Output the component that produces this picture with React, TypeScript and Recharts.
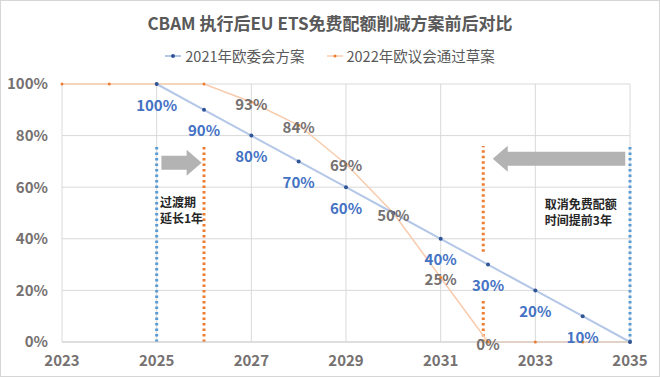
import { LineChart, Line, XAxis, YAxis, CartesianGrid, ReferenceLine, ReferenceDot, LabelList } from 'recharts';

const years = [2023, 2024, 2025, 2026, 2027, 2028, 2029, 2030, 2031, 2032, 2033, 2034, 2035];
const plan2021 = [null, null, 100, 90, 80, 70, 60, 50, 40, 30, 20, 10, 0];
const draft2022 = [100, 100, 100, 100, 93, 84, 69, 50, 25, 0, 0, 0, 0];
const xTicks = [2023, 2025, 2027, 2029, 2031, 2033, 2035];
const yTicks = [0, 20, 40, 60, 80, 100];
// which points get a data label
const plan2021Labeled = [2025, 2026, 2027, 2028, 2029, 2031, 2032, 2033, 2034];
const draft2022Labeled = [2027, 2028, 2029, 2030, 2031, 2032];

const data = years.map((y, i) => ({ year: y, plan2021: plan2021[i], draft2022: draft2022[i] }));

const FONT = '"Noto Sans CJK SC", "Noto Sans", sans-serif';
const BLUE_TEXT = '#4472c4';
const GRAY_TEXT = '#767171';

const blueLabel = (props: any) => {
  const { x, y, value, index } = props;
  if (!plan2021Labeled.includes(years[index])) return null;
  return (
    <text x={x} y={y + 20} textAnchor="middle" dominantBaseline="central" fill={BLUE_TEXT} fontFamily={FONT} fontSize={15} fontWeight={700}>
      {value}%
    </text>
  );
};

const grayLabel = (props: any) => {
  const { x, y, value, index } = props;
  if (!draft2022Labeled.includes(years[index])) return null;
  return (
    <text x={x} y={y + 1} textAnchor="middle" dominantBaseline="central" fill={GRAY_TEXT} fontFamily={FONT} fontSize={15} fontWeight={700}>
      {value}%
    </text>
  );
};

const Arrow = (props: any) => {
  const { x1, y1, x2 } = props;
  const dir = x2 > x1 ? 1 : -1;
  const head = 15;
  const hb = x2 - dir * head;
  const pts = [
    [x1, y1 - 7], [hb, y1 - 7], [hb, y1 - 13], [x2, y1], [hb, y1 + 13], [hb, y1 + 7], [x1, y1 + 7],
  ].map((p) => p.join(',')).join(' ');
  return <polygon points={pts} fill="#b3b3b3" />;
};

const note = (lines: string[]) => (props: any) => {
  const { cx, cy } = props;
  return (
    <text x={cx} y={cy} fill="#262626" fontFamily={FONT} fontSize={12} fontWeight={700}>
      {lines.map((l, i) => (
        <tspan key={i} x={cx} dy={i === 0 ? 0 : 16}>{l}</tspan>
      ))}
    </text>
  );
};

const dotted = { strokeWidth: 3, strokeDasharray: '2.5 3' };

export default function App() {
  return (
    <div style={{ position: 'absolute', left: 0, top: 0, width: 660, height: 377, background: '#fff', boxSizing: 'border-box', border: '1px solid #d6d6d6', fontFamily: FONT }}>
      <div style={{ position: 'absolute', top: 9, width: '100%', textAlign: 'center', fontSize: 17, fontWeight: 700, color: '#595959' }}>
        CBAM 执行后EU ETS免费配额削减方案前后对比
      </div>
      <div style={{ position: 'absolute', top: 44, width: '100%', display: 'flex', justifyContent: 'center', gap: 22, fontSize: 14.5, color: '#595959' }}>
        <span style={{ display: 'flex', alignItems: 'center', gap: 4 }}>
          <svg width={16} height={10}><line x1={0} y1={5} x2={16} y2={5} stroke="#b4c7e7" strokeWidth={2} /><circle cx={8} cy={5} r={2} fill="#2f5597" /></svg>
          2021年欧委会方案
        </span>
        <span style={{ display: 'flex', alignItems: 'center', gap: 4 }}>
          <svg width={16} height={10}><line x1={0} y1={5} x2={16} y2={5} stroke="#f8cbad" strokeWidth={1.5} /><circle cx={8} cy={5} r={1.5} fill="#ed7d31" /></svg>
          2022年欧议会通过草案
        </span>
      </div>
      <div style={{ position: 'absolute', left: 0, top: 0 }}>
        <LineChart width={660} height={377} data={data} margin={{ top: 83, right: 31, bottom: 0, left: 11 }}>
          <CartesianGrid stroke="#d9d9d9" />
          <XAxis
            dataKey="year"
            type="number"
            domain={[2023, 2035]}
            ticks={xTicks}
            height={36}
            tickLine={false}
            tickSize={0}
            tickMargin={13}
            axisLine={{ stroke: '#d0d0d0' }}
            tick={{ fill: GRAY_TEXT, fontSize: 15, fontWeight: 700, fontFamily: FONT }}
          />
          <YAxis
            domain={[0, 100]}
            ticks={yTicks}
            width={50}
            tickFormatter={(v) => `${v}%`}
            axisLine={false}
            tickLine={false}
            tickSize={0}
            tickMargin={14}
            tick={{ fill: GRAY_TEXT, fontSize: 15, fontWeight: 700, fontFamily: FONT }}
          />
          <ReferenceLine segment={[{ x: 2025, y: 0 }, { x: 2025, y: 76 }]} stroke="#5b9bd5" {...dotted} />
          <ReferenceLine segment={[{ x: 2026, y: 0 }, { x: 2026, y: 76 }]} stroke="#ed7d31" {...dotted} />
          <ReferenceLine segment={[{ x: 2031.9, y: 0 }, { x: 2031.9, y: 17 }]} stroke="#ed7d31" {...dotted} />
          <ReferenceLine segment={[{ x: 2031.9, y: 35 }, { x: 2031.9, y: 76 }]} stroke="#ed7d31" {...dotted} />
          <ReferenceLine segment={[{ x: 2035, y: 0 }, { x: 2035, y: 76 }]} stroke="#5b9bd5" {...dotted} />
          <ReferenceLine segment={[{ x: 2025.1, y: 69.5 }, { x: 2025.95, y: 69.5 }]} shape={Arrow} />
          <ReferenceLine segment={[{ x: 2034.9, y: 71 }, { x: 2032.1, y: 71 }]} shape={Arrow} />
          <ReferenceDot x={2025.07} y={52.5} r={0} shape={note(['过渡期', '延长1年'])} />
          <ReferenceDot x={2033.2} y={51.5} r={0} shape={note(['取消免费配额', '时间提前3年'])} />
          <Line
            dataKey="draft2022"
            type="linear"
            stroke="#f8cbad"
            strokeWidth={1.5}
            dot={{ r: 1.5, fill: '#ed7d31', stroke: 'none' }}
            isAnimationActive={false}
          >
            <LabelList dataKey="draft2022" content={grayLabel} />
          </Line>
          <Line
            dataKey="plan2021"
            type="linear"
            stroke="#b4c7e7"
            strokeWidth={2}
            dot={{ r: 2, fill: '#2f5597', stroke: 'none' }}
            isAnimationActive={false}
          >
            <LabelList dataKey="plan2021" content={blueLabel} />
          </Line>
        </LineChart>
      </div>
    </div>
  );
}
